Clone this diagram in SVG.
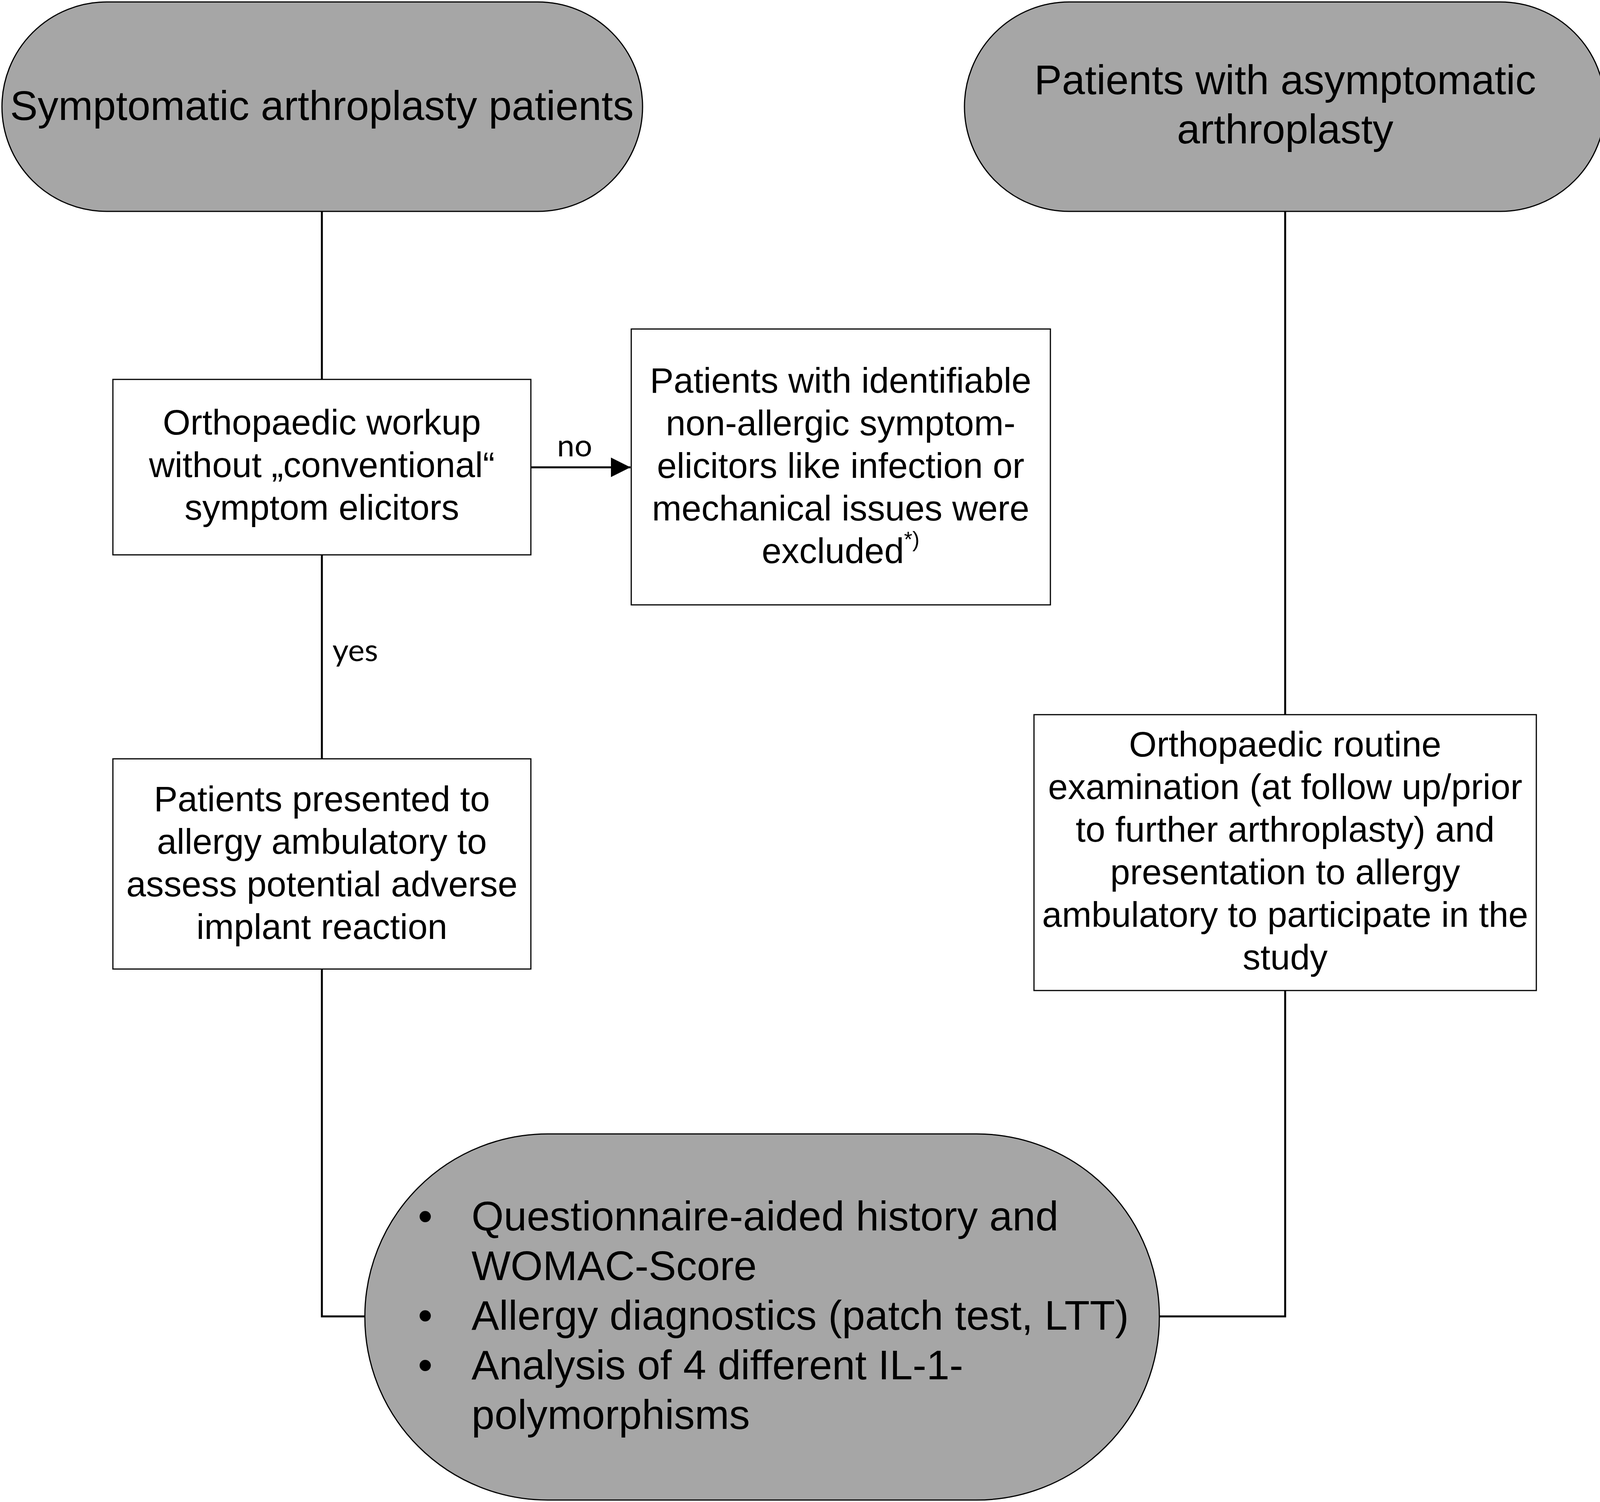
<svg xmlns="http://www.w3.org/2000/svg" width="4114" height="3844" viewBox="0 0 4114 3844">
<defs>
<style>
.term{fill:#a6a6a6;stroke:#000;stroke-width:3}
.box{fill:#fff;stroke:#000;stroke-width:3}
.t{font-family:"Liberation Sans",Arial,sans-serif;fill:#000}
.big{font-size:106px}
.mid{font-size:91px}
.c{text-anchor:middle}
.lbl{font-family:Lato,"Open Sans",sans-serif;font-size:80px;fill:#000}
.conn{fill:none;stroke:#000;stroke-width:5}
</style>
<marker id="arr" markerWidth="10" markerHeight="10" refX="10" refY="5" orient="auto" markerUnits="strokeWidth" viewBox="0 0 10 10">
<path d="M0,0 L10,5 L0,10 Z" fill="#000"/>
</marker>
</defs>
<rect width="4114" height="3844" fill="#fff"/>
<g id="connectors">
<line class="conn" x1="824" y1="541" x2="824" y2="971"/>
<line class="conn" x1="824" y1="1420" x2="824" y2="1942"/>
<polyline class="conn" points="824,2480 824,3369 934,3369"/>
<line class="conn" x1="1359" y1="1196" x2="1614" y2="1196" marker-end="url(#arr)"/>
<line class="conn" x1="3290" y1="541" x2="3290" y2="1829"/>
<polyline class="conn" points="3290,2535 3290,3369 2968,3369"/>
<text class="lbl" x="1426" y="1168">no</text>
<text class="lbl" x="851" y="1692">yes</text>
</g>
<g id="n1">
<rect class="term" x="5" y="5" width="1640" height="536" rx="268" ry="268"/>
<text class="t big c" x="824" y="307">Symptomatic arthroplasty patients</text>
</g>
<g id="n2">
<rect class="term" x="2469" y="5" width="1640" height="536" rx="268" ry="268"/>
<text class="t big c" x="3290" y="241">Patients with asymptomatic</text>
<text class="t big c" x="3290" y="367">arthroplasty</text>
</g>
<g id="n3">
<rect class="box" x="289" y="971" width="1070" height="449"/>
<text class="t mid c" x="824" y="1112">Orthopaedic workup</text>
<text class="t mid c" x="824" y="1221">without „conventional“</text>
<text class="t mid c" x="824" y="1330">symptom elicitors</text>
</g>
<g id="n4">
<rect class="box" x="1616" y="842" width="1073" height="706"/>
<text class="t mid c" x="2152" y="1005">Patients with identifiable</text>
<text class="t mid c" x="2152" y="1114">non-allergic symptom-</text>
<text class="t mid c" x="2152" y="1223">elicitors like infection or</text>
<text class="t mid c" x="2152" y="1332">mechanical issues were</text>
<text class="t mid c" x="2152" y="1441">excluded<tspan font-size="55" dy="-42">*)</tspan></text>
</g>
<g id="n5">
<rect class="box" x="289" y="1942" width="1070" height="538"/>
<text class="t mid c" x="824" y="2076">Patients presented to</text>
<text class="t mid c" x="824" y="2185">allergy ambulatory to</text>
<text class="t mid c" x="824" y="2294">assess potential adverse</text>
<text class="t mid c" x="824" y="2403">implant reaction</text>
</g>
<g id="n6">
<rect class="box" x="2647" y="1829" width="1286" height="706"/>
<text class="t mid c" x="3290" y="1936">Orthopaedic routine</text>
<text class="t mid c" x="3290" y="2045">examination (at follow up/prior</text>
<text class="t mid c" x="3290" y="2154">to further arthroplasty) and</text>
<text class="t mid c" x="3290" y="2263">presentation to allergy</text>
<text class="t mid c" x="3290" y="2372">ambulatory to participate in the</text>
<text class="t mid c" x="3290" y="2481">study</text>
</g>
<g id="n7">
<rect class="term" x="934" y="2902" width="2034" height="937" rx="468" ry="468"/>
<text class="t big" x="1070" y="3149">•</text>
<text class="t big" x="1207" y="3149">Questionnaire-aided history and</text>
<text class="t big" x="1207" y="3276">WOMAC-Score</text>
<text class="t big" x="1070" y="3403">•</text>
<text class="t big" x="1207" y="3403">Allergy diagnostics (patch test, LTT)</text>
<text class="t big" x="1070" y="3530">•</text>
<text class="t big" x="1207" y="3530">Analysis of 4 different IL-1-</text>
<text class="t big" x="1207" y="3657">polymorphisms</text>
</g>
</svg>
